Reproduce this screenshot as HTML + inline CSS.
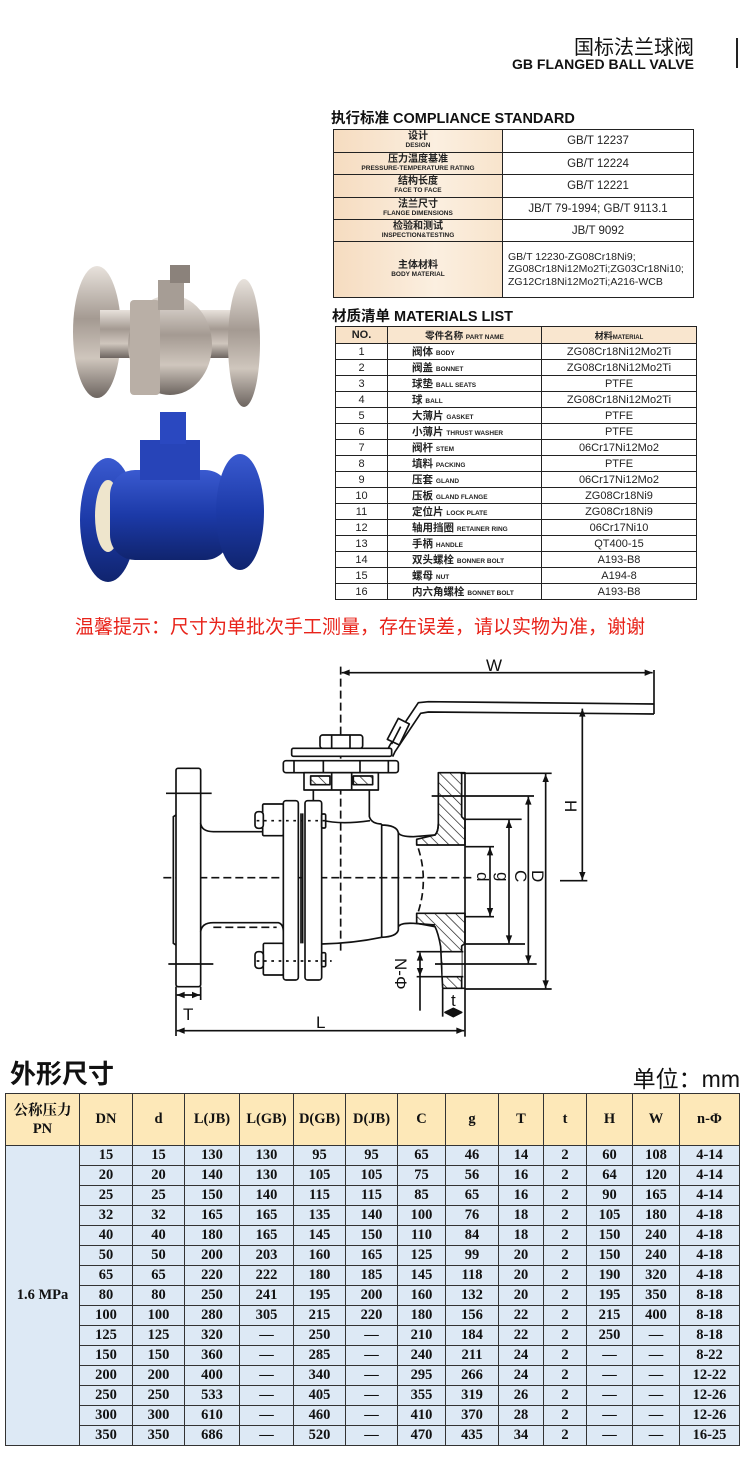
<!DOCTYPE html>
<html><head><meta charset="utf-8"><style>
*{margin:0;padding:0;box-sizing:border-box}
body{width:750px;height:1475px;background:#fff;position:relative;overflow:hidden;font-family:"Liberation Sans","Noto Sans CJK SC",sans-serif;color:#111}
.a{position:absolute}
table{border-collapse:collapse;table-layout:fixed}
.ct td{border:1.5px solid #222;text-align:center;font-size:11.5px;color:#222}
.ct td.l{background:linear-gradient(90deg,#f6dcc0,#fbefe0 60%,#f8e4cc);line-height:1}
.ct .cn{font-size:10px;font-weight:bold;display:block}
.ct .en{font-size:6.5px;font-weight:bold;display:block;margin-top:1px}
.mt td{border:1.3px solid #222;font-size:11px;height:15.2px;padding:0;color:#222}
.mt td.c{text-align:center}
.mt td.p{padding-left:24px;font-weight:bold;font-size:10.5px}
.mt td.p small{font-size:6.5px;font-weight:bold}
.bt td{border:1px solid #333;text-align:center;font-family:"Liberation Serif","Noto Serif CJK SC",serif;font-weight:bold;font-size:14.5px;height:20px;padding:0;background:#dde9f5}
.bt tr.h td{background:#fde8b8;height:52px}
</style></head><body>

<div class="a" style="right:56px;top:31px;font-size:20px;font-family:'Liberation Sans','Noto Sans CJK SC',sans-serif">国标法兰球阀</div>
<div class="a" style="right:56px;top:56px;font-size:14px;font-weight:bold">GB FLANGED BALL VALVE</div>
<div class="a" style="left:736px;top:38px;width:2px;height:30px;background:#222"></div>

<div class="a" style="left:331px;top:107px;font-size:14.5px;font-weight:bold">执行标准 COMPLIANCE STANDARD</div>
<table class="ct a" style="left:333px;top:129px;width:360px">
<colgroup><col style="width:169px"><col style="width:191px"></colgroup>
<tr style="height:23px"><td class="l"><span class="cn">设计</span><span class="en">DESIGN</span></td><td>GB/T 12237</td></tr>
<tr style="height:22px"><td class="l"><span class="cn">压力温度基准</span><span class="en">PRESSURE-TEMPERATURE RATING</span></td><td>GB/T 12224</td></tr>
<tr style="height:23px"><td class="l"><span class="cn">结构长度</span><span class="en">FACE TO FACE</span></td><td>GB/T 12221</td></tr>
<tr style="height:22px"><td class="l"><span class="cn">法兰尺寸</span><span class="en">FLANGE DIMENSIONS</span></td><td>JB/T 79-1994; GB/T 9113.1</td></tr>
<tr style="height:22px"><td class="l"><span class="cn">检验和测试</span><span class="en">INSPECTION&amp;TESTING</span></td><td>JB/T 9092</td></tr>
<tr style="height:56px"><td class="l"><span class="cn">主体材料</span><span class="en">BODY MATERIAL</span></td><td style="text-align:left;padding-left:5px;font-size:10.5px;line-height:12.5px">GB/T 12230-ZG08Cr18Ni9;<br>ZG08Cr18Ni12Mo2Ti;ZG03Cr18Ni10;<br>ZG12Cr18Ni12Mo2Ti;A216-WCB</td></tr>
</table>

<div class="a" style="left:332px;top:305px;font-size:14.5px;font-weight:bold">材质清单 MATERIALS LIST</div>
<table class="mt a" style="left:335px;top:326px;width:361px">
<colgroup><col style="width:52px"><col style="width:154px"><col style="width:155px"></colgroup>
<tr><td class="c" style="height:17px;background:#f8e2c8;font-weight:bold">NO.</td><td class="c" style="background:#f9e6cf;font-weight:bold;font-size:9.5px">零件名称 <small style="font-size:6.5px">PART NAME</small></td><td class="c" style="background:#f9e6cf;font-weight:bold;font-size:9px">材料<small style="font-size:6px">MATERIAL</small></td></tr>
<tr><td class="c">1</td><td class="p">阀体 <small>BODY</small></td><td class="c">ZG08Cr18Ni12Mo2Ti</td></tr>
<tr><td class="c">2</td><td class="p">阀盖 <small>BONNET</small></td><td class="c">ZG08Cr18Ni12Mo2Ti</td></tr>
<tr><td class="c">3</td><td class="p">球垫 <small>BALL SEATS</small></td><td class="c">PTFE</td></tr>
<tr><td class="c">4</td><td class="p">球 <small>BALL</small></td><td class="c">ZG08Cr18Ni12Mo2Ti</td></tr>
<tr><td class="c">5</td><td class="p">大薄片 <small>GASKET</small></td><td class="c">PTFE</td></tr>
<tr><td class="c">6</td><td class="p">小薄片 <small>THRUST WASHER</small></td><td class="c">PTFE</td></tr>
<tr><td class="c">7</td><td class="p">阀杆 <small>STEM</small></td><td class="c">06Cr17Ni12Mo2</td></tr>
<tr><td class="c">8</td><td class="p">填料 <small>PACKING</small></td><td class="c">PTFE</td></tr>
<tr><td class="c">9</td><td class="p">压套 <small>GLAND</small></td><td class="c">06Cr17Ni12Mo2</td></tr>
<tr><td class="c">10</td><td class="p">压板 <small>GLAND FLANGE</small></td><td class="c">ZG08Cr18Ni9</td></tr>
<tr><td class="c">11</td><td class="p">定位片 <small>LOCK PLATE</small></td><td class="c">ZG08Cr18Ni9</td></tr>
<tr><td class="c">12</td><td class="p">轴用挡圈 <small>RETAINER RING</small></td><td class="c">06Cr17Ni10</td></tr>
<tr><td class="c">13</td><td class="p">手柄 <small>HANDLE</small></td><td class="c">QT400-15</td></tr>
<tr><td class="c">14</td><td class="p">双头螺栓 <small>BONNER BOLT</small></td><td class="c">A193-B8</td></tr>
<tr><td class="c">15</td><td class="p">螺母 <small>NUT</small></td><td class="c">A194-8</td></tr>
<tr><td class="c">16</td><td class="p">内六角螺栓 <small>BONNET BOLT</small></td><td class="c">A193-B8</td></tr>
</table>

<!-- photos -->
<svg class="a" style="left:0;top:240px" width="300" height="350" viewBox="0 240 300 350">
<defs>
<linearGradient id="sv" x1="0" y1="0" x2="0" y2="1"><stop offset="0" stop-color="#e8e2dc"/><stop offset=".4" stop-color="#a49a92"/><stop offset=".7" stop-color="#cfc6bd"/><stop offset="1" stop-color="#6d6560"/></linearGradient>
<linearGradient id="bv" x1="0" y1="0" x2="0" y2="1"><stop offset="0" stop-color="#3a5ad0"/><stop offset=".5" stop-color="#1c3aa8"/><stop offset="1" stop-color="#10246e"/></linearGradient>
</defs>
<ellipse cx="97" cy="332" rx="24" ry="66" fill="url(#sv)"/>
<rect x="100" y="310" width="140" height="48" fill="url(#sv)"/>
<ellipse cx="170" cy="345" rx="42" ry="50" fill="url(#sv)"/>
<rect x="130" y="300" width="30" height="95" rx="4" fill="#b9afa6"/>
<rect x="158" y="280" width="26" height="30" fill="#a69d95"/>
<rect x="170" y="265" width="20" height="18" fill="#8b827b"/>
<ellipse cx="244" cy="343" rx="16" ry="64" fill="url(#sv)"/>
<ellipse cx="108" cy="520" rx="28" ry="62" fill="url(#bv)"/>
<ellipse cx="108" cy="516" rx="13" ry="36" fill="#eee5cc"/>
<rect x="110" y="470" width="120" height="90" rx="25" fill="url(#bv)"/>
<rect x="140" y="440" width="60" height="40" fill="#2744b8"/>
<rect x="160" y="412" width="26" height="32" fill="#2a48c0"/>
<ellipse cx="240" cy="512" rx="24" ry="58" fill="url(#bv)"/>
</svg>

<div class="a" style="left:75px;top:612px;font-size:19px;color:#e8231a;white-space:nowrap">温馨提示：尺寸为单批次手工测量，存在误差，请以实物为准，谢谢</div>

<!-- drawing -->
<svg class="a" style="left:0;top:0" width="750" height="1060">
<defs>
<marker id="ar" viewBox="0 0 10 10" refX="10" refY="5" markerWidth="30" markerHeight="24" markerUnits="userSpaceOnUse" orient="auto-start-reverse"><path d="M0,1 L10,5 L0,9 Z" fill="#111"/></marker>
<pattern id="ht" width="22" height="22" patternUnits="userSpaceOnUse" patternTransform="rotate(-45)"><line x1="0" y1="0" x2="0" y2="22" stroke="#111" stroke-width="4"/></pattern>
</defs>
<g transform="translate(150,650) scale(0.33333)" stroke="#111" stroke-width="5" fill="none" stroke-linejoin="round">
<line x1="40" y1="683" x2="975" y2="683" stroke-dasharray="24,12"/>
<line x1="572" y1="50" x2="572" y2="912" stroke-dasharray="24,12"/>
<line x1="575" y1="68" x2="1508" y2="68" marker-start="url(#ar)" marker-end="url(#ar)"/>
<line x1="1512" y1="60" x2="1512" y2="192"/>
<path d="M1512,162 L835,155 L805,158 L720,285 L712,300 M1512,192 L835,186 L812,190 L735,305 L728,320" />
<polygon points="745,205 778,222 748,285 712,268" fill="#fff"/>
<line x1="752" y1="230" x2="725" y2="282"/>
<rect x="510" y="255" width="128" height="40" rx="8" fill="#fff"/>
<line x1="545" y1="255" x2="545" y2="295"/><line x1="600" y1="255" x2="600" y2="295"/>
<rect x="425" y="295" width="300" height="24" rx="5" fill="#fff"/>
<rect x="400" y="332" width="345" height="36" rx="8" fill="#fff"/>
<line x1="432" y1="332" x2="432" y2="368"/><line x1="520" y1="332" x2="520" y2="368"/><line x1="630" y1="332" x2="630" y2="368"/><line x1="715" y1="332" x2="715" y2="368"/>
<rect x="462" y="368" width="223" height="52" fill="#fff"/>
<rect x="482" y="378" width="58" height="26" fill="url(#ht)"/><rect x="610" y="378" width="58" height="26" fill="url(#ht)"/>
<line x1="545" y1="368" x2="545" y2="420"/><line x1="605" y1="368" x2="605" y2="420"/>
<path d="M490,420 L490,508 M658,420 L658,500 Q665,522 695,522"/>
<path d="M515,510 Q570,525 660,512"/>
<path d="M515,882 Q610,880 695,862"/>
<path d="M695,522 L695,862 M693,525 Q740,525 745,548 L745,840 Q740,860 695,862"/>
<rect x="78" y="355" width="74" height="655" rx="6" fill="#fff"/>
<path d="M78,495 L70,500 L70,880 L78,885"/>
<line x1="48" y1="430" x2="185" y2="430"/><line x1="55" y1="942" x2="190" y2="942"/>
<path d="M152,520 Q155,545 190,545 L338,545"/>
<path d="M152,845 Q155,818 190,818 L385,818 Q400,822 400,845"/>
<path d="M190,832 L380,832" stroke-dasharray="24,12"/>
<rect x="338" y="462" width="62" height="95" rx="4" fill="#fff"/><rect x="315" y="485" width="25" height="50" rx="10" fill="#fff"/>
<rect x="340" y="880" width="60" height="95" rx="4" fill="#fff"/><rect x="315" y="905" width="25" height="50" rx="10" fill="#fff"/>
<rect x="400" y="452" width="45" height="538" rx="8" fill="#fff"/>
<rect x="465" y="452" width="50" height="538" rx="8" fill="#fff"/>
<line x1="453" y1="490" x2="453" y2="880"/><line x1="458" y1="490" x2="458" y2="880"/>
<rect x="515" y="492" width="12" height="42" rx="4" fill="#fff"/><rect x="515" y="908" width="12" height="42" rx="4" fill="#fff"/>
<line x1="320" y1="512" x2="530" y2="512" stroke-dasharray="8,14"/><line x1="320" y1="933" x2="545" y2="933" stroke-dasharray="8,14"/>
<path d="M745,548 Q750,560 790,560 L855,555 Q865,545 865,520"/>
<path d="M745,830 Q752,818 790,820 L855,825"/>
<path d="M865,368 L935,368 L935,500 L945,510 L945,585 L800,585 L800,568 L855,555 Q865,545 865,520 Z" fill="url(#ht)"/>
<path d="M800,790 L945,790 L945,880 L935,888 L935,1015 L878,1015 L872,890 Q865,850 855,830 L800,820 Z" fill="url(#ht)"/>
<rect x="878" y="905" width="57" height="75" fill="#fff" stroke="none"/>
<path d="M935,368 L945,368 L945,1015 L935,1015"/>
<path d="M805,595 Q835,690 805,785" stroke-dasharray="22,12"/>
<line x1="935" y1="370" x2="1205" y2="370"/>
<line x1="845" y1="438" x2="1152" y2="438"/>
<line x1="945" y1="508" x2="1115" y2="508"/>
<line x1="945" y1="590" x2="1032" y2="590"/>
<line x1="945" y1="800" x2="1032" y2="800"/>
<line x1="945" y1="882" x2="1125" y2="882"/>
<line x1="855" y1="942" x2="1160" y2="942"/>
<line x1="945" y1="1017" x2="1205" y2="1017"/>
<line x1="1020" y1="592" x2="1020" y2="798" marker-start="url(#ar)" marker-end="url(#ar)"/>
<line x1="1077" y1="510" x2="1077" y2="880" marker-start="url(#ar)" marker-end="url(#ar)"/>
<line x1="1135" y1="440" x2="1135" y2="940" marker-start="url(#ar)" marker-end="url(#ar)"/>
<line x1="1187" y1="372" x2="1187" y2="1015" marker-start="url(#ar)" marker-end="url(#ar)"/>
<line x1="1297" y1="176" x2="1297" y2="690" marker-start="url(#ar)" marker-end="url(#ar)"/>
<line x1="1230" y1="692" x2="1312" y2="692"/>
<line x1="800" y1="905" x2="940" y2="905"/><line x1="800" y1="980" x2="940" y2="980"/>
<line x1="810" y1="908" x2="810" y2="978" marker-start="url(#ar)" marker-end="url(#ar)"/>
<line x1="810" y1="980" x2="810" y2="1082"/>
<line x1="78" y1="1010" x2="78" y2="1158"/><line x1="152" y1="1010" x2="152" y2="1050"/>
<line x1="80" y1="1035" x2="150" y2="1035" marker-start="url(#ar)" marker-end="url(#ar)"/>
<line x1="80" y1="1142" x2="943" y2="1142" marker-start="url(#ar)" marker-end="url(#ar)"/>
<line x1="945" y1="1017" x2="945" y2="1160"/>
<line x1="878" y1="1017" x2="878" y2="1100"/>
<polygon points="885,1087 910,1075 935,1087 910,1100" fill="#111"/>
</g>
<g font-family="Liberation Sans,sans-serif" font-size="17" fill="#111">
<text x="486" y="671">W</text>
<text x="183" y="1020">T</text>
<text x="316" y="1028">L</text>
<text x="451" y="1006">t</text>
<text transform="translate(565,800) rotate(90)">H</text>
<text transform="translate(477,872) rotate(90)">d</text>
<text transform="translate(497,872) rotate(90)">g</text>
<text transform="translate(515,870) rotate(90)">C</text>
<text transform="translate(532,870) rotate(90)">D</text>
<text transform="translate(395,958) rotate(90)">N-Φ</text>
</g>
</svg>

<div class="a" style="left:10px;top:1054px;font-size:26px;font-weight:bold;font-family:'Liberation Sans','Noto Sans CJK SC',sans-serif">外形尺寸</div>
<div class="a" style="right:10px;top:1060px;font-size:23px;font-family:'Liberation Sans','Noto Sans CJK SC',sans-serif">单位：mm</div>

<table class="bt a" style="left:5px;top:1093px;width:734px">
<colgroup><col style="width:74px"><col style="width:53px"><col style="width:52px"><col style="width:55px"><col style="width:54px"><col style="width:52px"><col style="width:52px"><col style="width:48px"><col style="width:53px"><col style="width:45px"><col style="width:43px"><col style="width:46px"><col style="width:47px"><col style="width:60px"></colgroup>
<tr class="h"><td style="line-height:18px">公称压力<br>PN</td><td>DN</td><td>d</td><td>L(JB)</td><td>L(GB)</td><td>D(GB)</td><td>D(JB)</td><td>C</td><td>g</td><td>T</td><td>t</td><td>H</td><td>W</td><td>n-Φ</td></tr>
<tr><td rowspan="15">1.6 MPa</td><td>15</td><td>15</td><td>130</td><td>130</td><td>95</td><td>95</td><td>65</td><td>46</td><td>14</td><td>2</td><td>60</td><td>108</td><td>4-14</td></tr>
<tr><td>20</td><td>20</td><td>140</td><td>130</td><td>105</td><td>105</td><td>75</td><td>56</td><td>16</td><td>2</td><td>64</td><td>120</td><td>4-14</td></tr>
<tr><td>25</td><td>25</td><td>150</td><td>140</td><td>115</td><td>115</td><td>85</td><td>65</td><td>16</td><td>2</td><td>90</td><td>165</td><td>4-14</td></tr>
<tr><td>32</td><td>32</td><td>165</td><td>165</td><td>135</td><td>140</td><td>100</td><td>76</td><td>18</td><td>2</td><td>105</td><td>180</td><td>4-18</td></tr>
<tr><td>40</td><td>40</td><td>180</td><td>165</td><td>145</td><td>150</td><td>110</td><td>84</td><td>18</td><td>2</td><td>150</td><td>240</td><td>4-18</td></tr>
<tr><td>50</td><td>50</td><td>200</td><td>203</td><td>160</td><td>165</td><td>125</td><td>99</td><td>20</td><td>2</td><td>150</td><td>240</td><td>4-18</td></tr>
<tr><td>65</td><td>65</td><td>220</td><td>222</td><td>180</td><td>185</td><td>145</td><td>118</td><td>20</td><td>2</td><td>190</td><td>320</td><td>4-18</td></tr>
<tr><td>80</td><td>80</td><td>250</td><td>241</td><td>195</td><td>200</td><td>160</td><td>132</td><td>20</td><td>2</td><td>195</td><td>350</td><td>8-18</td></tr>
<tr><td>100</td><td>100</td><td>280</td><td>305</td><td>215</td><td>220</td><td>180</td><td>156</td><td>22</td><td>2</td><td>215</td><td>400</td><td>8-18</td></tr>
<tr><td>125</td><td>125</td><td>320</td><td>—</td><td>250</td><td>—</td><td>210</td><td>184</td><td>22</td><td>2</td><td>250</td><td>—</td><td>8-18</td></tr>
<tr><td>150</td><td>150</td><td>360</td><td>—</td><td>285</td><td>—</td><td>240</td><td>211</td><td>24</td><td>2</td><td>—</td><td>—</td><td>8-22</td></tr>
<tr><td>200</td><td>200</td><td>400</td><td>—</td><td>340</td><td>—</td><td>295</td><td>266</td><td>24</td><td>2</td><td>—</td><td>—</td><td>12-22</td></tr>
<tr><td>250</td><td>250</td><td>533</td><td>—</td><td>405</td><td>—</td><td>355</td><td>319</td><td>26</td><td>2</td><td>—</td><td>—</td><td>12-26</td></tr>
<tr><td>300</td><td>300</td><td>610</td><td>—</td><td>460</td><td>—</td><td>410</td><td>370</td><td>28</td><td>2</td><td>—</td><td>—</td><td>12-26</td></tr>
<tr><td>350</td><td>350</td><td>686</td><td>—</td><td>520</td><td>—</td><td>470</td><td>435</td><td>34</td><td>2</td><td>—</td><td>—</td><td>16-25</td></tr>
</table>
</body></html>
